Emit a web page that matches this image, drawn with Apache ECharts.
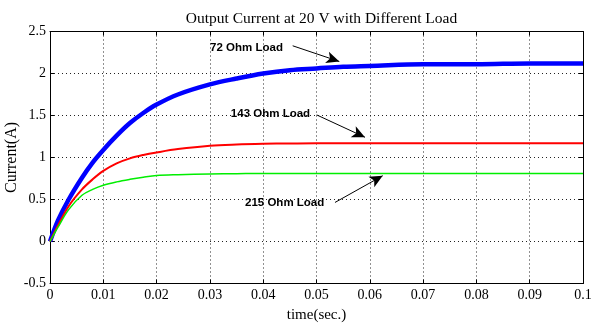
<!DOCTYPE html>
<html>
<head>
<meta charset="utf-8">
<script src="https://cdn.jsdelivr.net/npm/echarts@6/dist/echarts.min.js"></script>
<style>html,body{margin:0;padding:0;background:#fff;}#c{width:593px;height:325px;}</style>
</head>
<body>
<div id="c"></div>
<script>
const titleText = 'Output Current at 20 V with Different Load';
const xName = 'time(sec.)';
const yName = 'Current(A)';
const time = [0, 0.0015, 0.0035, 0.006, 0.008, 0.01, 0.0125, 0.015, 0.0175, 0.02, 0.024, 0.03, 0.035, 0.04, 0.045, 0.05, 0.055, 0.06, 0.07, 0.08, 0.09, 0.1];
const load72 = [0, 0.25, 0.5, 0.76, 0.94, 1.09, 1.26, 1.41, 1.53, 1.63, 1.75, 1.87, 1.94, 2.0, 2.04, 2.06, 2.08, 2.09, 2.11, 2.11, 2.12, 2.12];
const load143 = [0, 0.19, 0.42, 0.62, 0.74, 0.84, 0.93, 0.99, 1.03, 1.06, 1.1, 1.14, 1.155, 1.163, 1.167, 1.17, 1.17, 1.17, 1.17, 1.17, 1.17, 1.17];
const load215 = [0, 0.17, 0.38, 0.55, 0.62, 0.67, 0.71, 0.74, 0.765, 0.785, 0.795, 0.804, 0.807, 0.81, 0.81, 0.81, 0.81, 0.81, 0.81, 0.81, 0.81, 0.81];
const labels = ['72 Ohm Load', '143 Ohm Load', '215 Ohm Load'];
// annotation anchors in data units: text right end, arrow start, arrow tip
const textAt = [[0.0437, 2.303], [0.0488, 1.519], [0.05146, 0.461]];
const arrowFrom = [[0.04553, 2.33], [0.05004, 1.507], [0.05347, 0.465]];
const arrowTo = [[0.05428, 2.143], [0.0591, 1.241], [0.06242, 0.783]];

const serif = 'Liberation Serif';
const chart = echarts.init(document.getElementById('c'));
const zip = (a) => time.map((t, i) => [t, a[i]]);
const gridLine = {show: true, lineStyle: {color: '#222', type: [1, 3], width: 1}};
const opt = {
  animation: false,
  backgroundColor: '#fff',
  title: {text: titleText, left: 316.5, textAlign: 'center', top: 6,
    textStyle: {fontFamily: serif, fontSize: 15.5, fontWeight: 'normal', color: '#000'}},
  grid: {left: 50, right: 10, top: 31.5, bottom: 41.5, containLabel: false, outerBoundsMode: 'none'},
  xAxis: [{
    type: 'value', min: 0, max: 0.1, interval: 0.01,
    name: xName, nameLocation: 'middle', nameGap: 24, nameMoveOverlap: false,
    nameTextStyle: {fontFamily: serif, fontSize: 15, color: '#000'},
    axisLine: {show: true, onZero: false, lineStyle: {color: '#000', width: 1}},
    axisTick: {show: true, inside: true, length: 4, lineStyle: {color: '#000'}},
    axisLabel: {fontFamily: serif, fontSize: 14, color: '#000', margin: 5,
      formatter: v => String(+v.toFixed(2))},
    splitLine: gridLine
  }, {
    type: 'value', min: 0, max: 0.1, interval: 0.01, position: 'top',
    axisLine: {show: true, onZero: false, lineStyle: {color: '#000', width: 1}},
    axisTick: {show: true, inside: true, length: 4, lineStyle: {color: '#000'}},
    axisLabel: {show: false}, splitLine: {show: false}
  }],
  yAxis: [{
    type: 'value', min: -0.5, max: 2.5, interval: 0.5,
    name: yName, nameLocation: 'middle', nameGap: 30, nameMoveOverlap: false,
    nameTextStyle: {fontFamily: serif, fontSize: 16, color: '#000'},
    axisLine: {show: true, onZero: false, lineStyle: {color: '#000', width: 1}},
    axisTick: {show: true, inside: true, length: 4, lineStyle: {color: '#000'}},
    axisLabel: {fontFamily: serif, fontSize: 14, color: '#000', margin: 4},
    splitLine: gridLine
  }, {
    type: 'value', min: -0.5, max: 2.5, interval: 0.5, position: 'right',
    axisLine: {show: true, onZero: false, lineStyle: {color: '#000', width: 1}},
    axisTick: {show: true, inside: true, length: 4, lineStyle: {color: '#000'}},
    axisLabel: {show: false}, splitLine: {show: false}
  }],
  series: [
    {name: labels[0], type: 'line', data: zip(load72), smooth: 0.35, showSymbol: false,
     lineStyle: {color: '#0000ff', width: 4.5}, z: 3},
    {name: labels[1], type: 'line', data: zip(load143), smooth: 0.35, showSymbol: false,
     lineStyle: {color: '#ff0000', width: 2}, z: 3},
    {name: labels[2], type: 'line', data: zip(load215), smooth: 0.35, showSymbol: false,
     lineStyle: {color: '#00ee00', width: 1.5}, z: 3},
    {type: 'line', data: [], silent: true, z: 5,
     markLine: {silent: true, symbol: ['none', 'arrow'], symbolSize: [9, 13], label: {show: false},
       lineStyle: {color: '#000', width: 1, type: 'solid'},
       data: arrowFrom.map((p, i) => [{coord: p}, {coord: arrowTo[i]}])}}
  ]
};
chart.setOption(opt);
chart.setOption({
  graphic: labels.map((t, i) => {
    const p = chart.convertToPixel({xAxisIndex: 0, yAxisIndex: 0}, textAt[i]);
    return {type: 'text', x: p[0], y: p[1], z: 10,
      style: {text: t, fill: '#000', font: 'bold 11.5px "Liberation Sans"', textAlign: 'right', textVerticalAlign: 'middle'}};
  })
});
</script>
</body>
</html>
